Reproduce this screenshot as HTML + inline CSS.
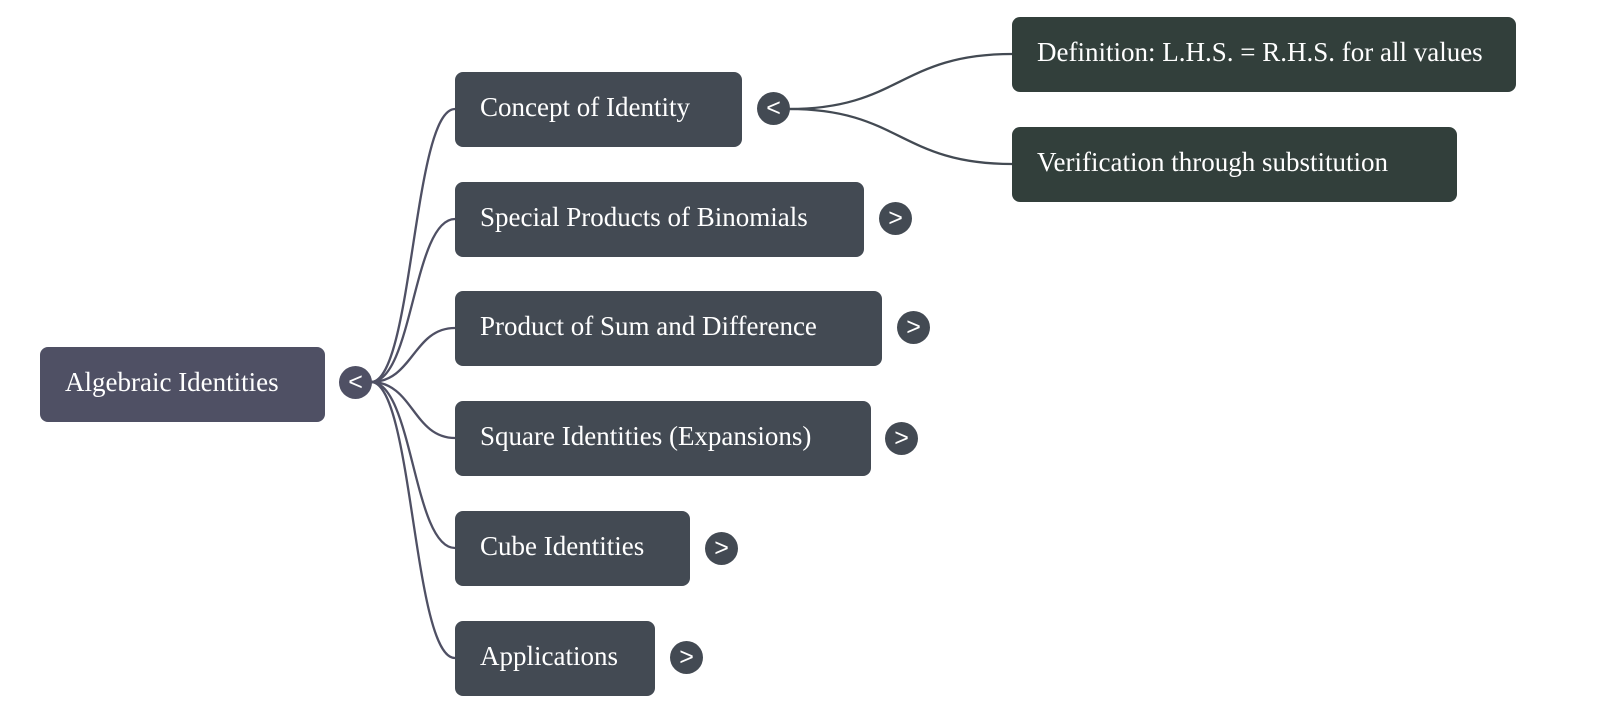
<!DOCTYPE html>
<html><head><style>
body{margin:0;width:1600px;height:713px;background:#fff;position:relative;overflow:hidden;font-family:"Liberation Serif",serif;}
.n{position:absolute;border-radius:8px;color:#fff;font-size:27px;box-sizing:border-box;padding-left:25px;padding-bottom:4px;display:flex;align-items:center;height:75px;white-space:nowrap;}
.c{position:absolute;width:33px;height:33px;border-radius:50%;color:#fff;font-family:"Liberation Sans",sans-serif;font-size:25px;display:flex;align-items:center;justify-content:center;line-height:1;}
</style></head><body>
<svg width="1600" height="713" style="position:absolute;left:0;top:0">
<g fill="none" stroke="#4f5064" stroke-width="2.3">
<path d="M371 382 C413 382 413 109 455 109"/>
<path d="M371 382 C413 382 413 219 455 219"/>
<path d="M371 382 C413 382 413 328 455 328"/>
<path d="M371 382 C413 382 413 438 455 438"/>
<path d="M371 382 C413 382 413 548 455 548"/>
<path d="M371 382 C413 382 413 658 455 658"/>
</g>
<g fill="none" stroke="#434a53" stroke-width="2.3">
<path d="M789 109 C900 109 900 54 1012 54"/>
<path d="M789 109 C900 109 900 164 1012 164"/>
</g>
</svg>
<div class="n" style="left:40px;top:347px;width:285px;background:#4f5064">Algebraic Identities</div>
<div class="c" style="left:339px;top:366px;background:#4f5064">&lt;</div>
<div class="n" style="left:455px;top:72px;width:287px;background:#434a53">Concept of Identity</div>
<div class="c" style="left:757px;top:92px;background:#434a53">&lt;</div>
<div class="n" style="left:455px;top:182px;width:409px;background:#434a53">Special Products of Binomials</div>
<div class="c" style="left:879px;top:202px;background:#434a53">&gt;</div>
<div class="n" style="left:455px;top:291px;width:427px;background:#434a53">Product of Sum and Difference</div>
<div class="c" style="left:897px;top:311px;background:#434a53">&gt;</div>
<div class="n" style="left:455px;top:401px;width:416px;background:#434a53">Square Identities (Expansions)</div>
<div class="c" style="left:885px;top:422px;background:#434a53">&gt;</div>
<div class="n" style="left:455px;top:511px;width:235px;background:#434a53">Cube Identities</div>
<div class="c" style="left:705px;top:532px;background:#434a53">&gt;</div>
<div class="n" style="left:455px;top:621px;width:200px;background:#434a53">Applications</div>
<div class="c" style="left:670px;top:641px;background:#434a53">&gt;</div>
<div class="n" style="left:1012px;top:17px;width:504px;background:#323f3b">Definition: L.H.S. = R.H.S. for all values</div>
<div class="n" style="left:1012px;top:127px;width:445px;background:#323f3b">Verification through substitution</div>
</body></html>
